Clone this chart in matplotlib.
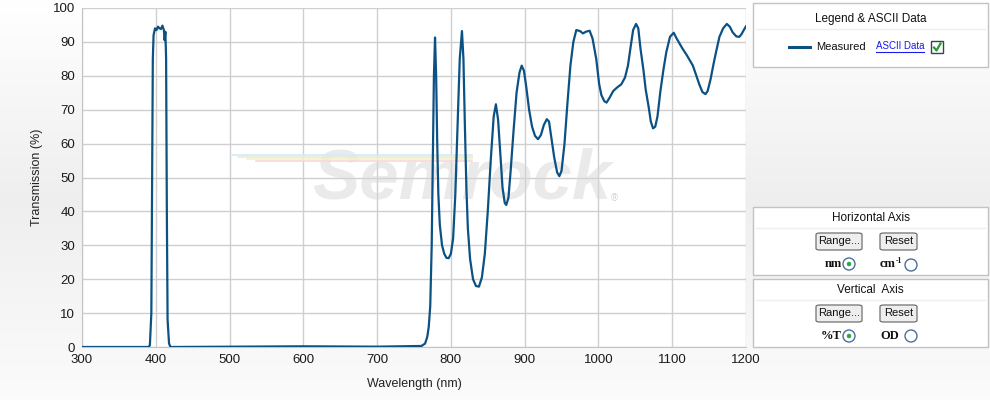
import matplotlib
matplotlib.use("Agg")
import matplotlib.pyplot as plt
import numpy as np
from matplotlib.patches import Rectangle, FancyBboxPatch, Ellipse
from matplotlib.lines import Line2D

# Measured transmission curve (nm, %T)
wavelength = [300, 390, 392, 394, 395, 396, 397, 399, 401, 403, 405, 407, 409, 411, 412, 413, 414, 415, 416, 418, 420,
              500, 600, 700, 760, 765, 768, 770, 772, 774, 775.5, 777, 778.5, 780, 781.5, 783, 785, 788, 791, 794, 797,
              800, 803, 806, 809, 812, 815, 817, 819, 821, 823, 826, 830, 834, 838, 842, 846, 850, 854, 858, 861,
              864, 867, 870, 873, 875, 878, 881, 885, 889, 893, 896, 899, 902, 906, 910, 914, 918, 922, 926, 930,
              933, 936, 940, 944, 947, 950, 954, 958, 962, 966, 970, 975, 979, 983, 988, 992, 997, 1001, 1004, 1008,
              1011, 1015, 1020, 1025, 1031, 1036, 1040, 1043, 1047, 1051, 1054, 1057, 1061, 1064, 1068, 1071, 1074,
              1077, 1080, 1084, 1088, 1092, 1097, 1102, 1106, 1110, 1114, 1120, 1124, 1128, 1132, 1137, 1141, 1145,
              1148, 1152, 1156, 1160, 1164, 1169, 1174, 1178, 1182, 1187, 1191, 1194, 1197, 1200]
transmission = [0, 0, 0.5, 10, 50, 85, 92, 94, 93.5, 94.5, 94, 93.8, 94.8, 93.5, 90.5, 93, 85, 40, 8, 1, 0,
                0.1, 0.2, 0.1, 0.3, 1, 3, 6, 12, 30, 55, 80, 91.3, 80, 60, 45, 36, 30, 27.5, 26.3, 26.2,
                27.5, 32, 45, 65, 85, 93.2, 85, 65, 47, 35, 26, 20, 18, 17.8, 20.5, 27.5, 40, 55, 68, 71.6,
                67, 57, 47, 42.5, 41.9, 44, 52, 64, 75, 81, 83, 81.5, 77, 70, 65, 62.3, 61.3, 62.5, 65.5, 67.2,
                66.5, 62, 56, 51.5, 50.4, 52, 60, 72, 83, 90, 93.5, 93.2, 92.5, 93, 93.3, 91, 85, 77.5, 74.3, 72.5,
                72.1, 73.5, 75.5, 76.5, 77.5, 79.5, 83, 87.6, 93.5, 95.3, 94, 88, 81.7, 76, 70.9, 66.5, 64.5,
                65, 68, 75.5, 81.7, 87, 91.5, 92.7, 91, 89.5, 88, 86, 84.5, 83, 80.5, 77.3, 75.2, 74.6,
                75.5, 79, 83.5, 87.6, 91.5, 94, 95.3, 94.5, 92.8, 91.6, 91.5, 92.3, 93.5, 94.6]

x_ticks = [300, 400, 500, 600, 700, 800, 900, 1000, 1100, 1200]
y_ticks = [0, 10, 20, 30, 40, 50, 60, 70, 80, 90, 100]

line_color = "#0c5184"
W, H = 990, 400
plt.rcParams["font.family"] = ["Liberation Sans", "DejaVu Sans"]

fig = plt.figure(figsize=(9.9, 4.0), dpi=100)

def fx(x):
    return x / W

def fy(y):
    return 1 - y / H

# page background, soft vertical gradient
bg = fig.add_axes([0, 0, 1, 1], zorder=-10)
grad = np.concatenate([np.linspace(1.0, 0.935, 200), np.linspace(0.935, 0.985, 200)])
bg.imshow(np.dstack([grad, grad, grad]).reshape(400, 1, 3), aspect="auto", extent=[0, 1, 0, 1])
bg.axis("off")

ax = fig.add_axes([fx(82), fy(347), fx(746) - fx(82), fy(8) - fy(347)])
ax.set_facecolor("white")
ax.set_xlim(300, 1200)
ax.set_ylim(0, 100)
ax.set_xticks(x_ticks)
ax.set_yticks(y_ticks)
ax.grid(color="#cfcfcf", linewidth=1.0)
ax.set_axisbelow(True)
for s in ["top", "right"]:
    ax.spines[s].set_visible(False)
ax.spines["left"].set_color("#c4c4c4")
ax.spines["bottom"].set_color("#c4c4c4")
ax.tick_params(length=0, labelsize=9.5, colors="#1a1a1a", pad=5)
ax.set_xlabel("Wavelength (nm)", fontsize=9, color="#222222", labelpad=9)
ax.set_ylabel("Transmission (%)", fontsize=9, color="#222222", labelpad=7)

# watermark
ax.text(815, 49, "Semrock", fontsize=51, fontweight="bold", style="italic", color="#d6d6d6",
        alpha=0.5, ha="center", va="center", zorder=1)
ax.text(1017, 43, "®", fontsize=7, color="#d0d0d0", zorder=1)
streak = ["#d8e8f8", "#e0f0d8", "#f8f0c8", "#f8d8d8"]
for i, c in enumerate(streak):
    ax.plot([500 + 12 * i, 828], [56.5 - 0.55 * i, 56.5 - 0.55 * i], color=c, lw=1.2, zorder=1)

ax.plot(wavelength, transmission, color=line_color, linewidth=1.6, zorder=3, solid_joinstyle="round")

# right-hand panels
def panel(x0, y0, x1, y1, title, ty):
    fig.patches.append(Rectangle((fx(x0), fy(y1)), fx(x1) - fx(x0), fy(y0) - fy(y1),
                                 transform=fig.transFigure, facecolor="white", edgecolor="#c2c2c2", lw=1))
    fig.text(fx((x0 + x1) / 2), fy(ty), title, ha="center", va="center", fontsize=8.5, color="#111111")
    fig.lines.append(Line2D([fx(x0 + 3), fx(x1 - 3)], [fy(ty + 10), fy(ty + 10)],
                            transform=fig.transFigure, color="#eeeeee", lw=1))

def button(x0, x1, y0, y1, label):
    fig.patches.append(FancyBboxPatch((fx(x0), fy(y1)), fx(x1) - fx(x0), fy(y0) - fy(y1),
                                      boxstyle="round,pad=0,rounding_size=0.004", transform=fig.transFigure,
                                      facecolor="#eeeeee", edgecolor="#707070", lw=0.9))
    fig.text(fx((x0 + x1) / 2), fy((y0 + y1) / 2), label, ha="center", va="center", fontsize=8, color="#111111")

def radio(x, y, on):
    fig.patches.append(Ellipse((fx(x), fy(y)), 12 / W, 12 / H, transform=fig.transFigure,
                               facecolor="white", edgecolor="#4a6f9a", lw=1))
    if on:
        fig.patches.append(Ellipse((fx(x), fy(y)), 4.5 / W, 4.5 / H, transform=fig.transFigure,
                                   facecolor="#2fa84a", edgecolor="none"))

serif = ["Liberation Serif", "DejaVu Serif"]

panel(753, 3, 988, 67, "Legend & ASCII Data", 19)
fig.lines.append(Line2D([fx(789), fx(810)], [fy(47), fy(47)], transform=fig.transFigure, color=line_color, lw=2.2))
fig.text(fx(816), fy(47), "Measured", ha="left", va="center", fontsize=8, color="#111111")
fig.text(fx(876), fy(46), "ASCII Data", ha="left", va="center", fontsize=7, color="#1a1aee")
fig.lines.append(Line2D([fx(876), fx(924)], [fy(52), fy(52)], transform=fig.transFigure, color="#1a1aee", lw=0.8))
fig.patches.append(Rectangle((fx(931), fy(53)), 12 / W, 12 / H, transform=fig.transFigure,
                             facecolor="white", edgecolor="#334455", lw=1))
fig.lines.append(Line2D([fx(934), fx(936.5), fx(940.5)], [fy(47.5), fy(50.5), fy(43.5)],
                        transform=fig.transFigure, color="#22a030", lw=1.6))

panel(753, 207, 988, 275, "Horizontal Axis", 218)
button(816, 862, 233, 250, "Range...")
button(880, 917, 233, 250, "Reset")
fig.text(fx(842), fy(264), "nm", ha="right", va="center", fontsize=9, fontweight="bold", family=serif, color="#111111")
radio(849, 264, True)
fig.text(fx(880), fy(264), "cm", ha="left", va="center", fontsize=9, fontweight="bold", family=serif, color="#111111")
fig.text(fx(896), fy(261), "-1", ha="left", va="center", fontsize=5.5, fontweight="bold", family=serif, color="#111111")
radio(911, 265, False)

panel(753, 279, 988, 347, "Vertical  Axis", 290)
button(816, 862, 305, 322, "Range...")
button(880, 917, 305, 322, "Reset")
fig.text(fx(842), fy(336), "%T", ha="right", va="center", fontsize=9, fontweight="bold", family=serif, color="#111111")
radio(849, 336, True)
fig.text(fx(880), fy(336), "OD", ha="left", va="center", fontsize=9, fontweight="bold", family=serif, color="#111111")
radio(911, 336, False)

fig.savefig("out.png", dpi=100)
